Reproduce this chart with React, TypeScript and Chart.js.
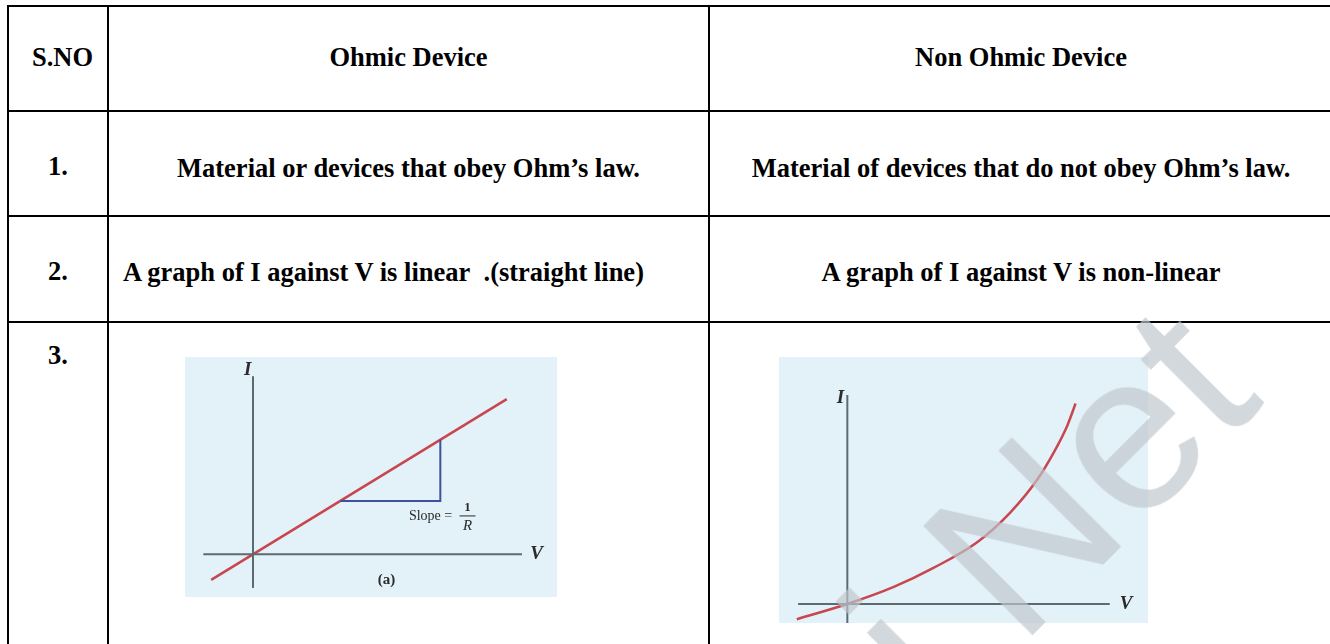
import React, { useEffect, useRef } from "react";
import { Chart, registerables } from "chart.js";

Chart.register(...registerables);

// ---------- table text ----------
const headers = ["S.NO", "Ohmic Device", "Non Ohmic Device"];
const serialNos = ["1.", "2.", "3."];
const ohmicRows = [
  "Material or devices that obey Ohm\u2019s law.",
  "A graph of I against V is linear\u00a0\u00a0.(straight line)",
];
const nonOhmicRows = [
  "Material of devices that do not obey Ohm\u2019s law.",
  "A graph of I against V is non-linear",
];

// ---------- chart (a): ohmic ----------
const ohmicV = [-0.8, 4.85];
const ohmicI = [-0.48, 2.91];
const ohmicVAxis = [-0.95, 5.14];
const ohmicIAxis = [-0.63, 3.34];
const slopeV = [1.67, 3.58, 3.58];
const slopeI = [1.0, 1.0, 2.15];

// ---------- chart (b): non ohmic ----------
const nonOhmicV = [-0.37, 0, 0.34, 0.63, 0.95, 1.19, 1.39, 1.52, 1.61, 1.67];
const nonOhmicI = [-0.16, 0, 0.18, 0.38, 0.65, 0.96, 1.31, 1.62, 1.88, 2.11];
const nonOhmicVAxis = [-0.36, 1.92];
const nonOhmicIAxis = [-0.2, 2.2];

const AXIS = "#5d6a72";
const RED = "#c8464f";
const BLUE = "#3e50a0";
const BOX = "#e3f1f8";

type Label = { x: number; y: number; text: string; font: string; align?: CanvasTextAlign };

function labelPlugin(labels: Label[], extra?: (chart: any) => void) {
  return {
    id: "labels",
    afterDatasetsDraw(chart: any) {
      const ctx = chart.ctx;
      const xs = chart.scales.x;
      const ys = chart.scales.y;
      ctx.save();
      ctx.fillStyle = "#2b2b2b";
      ctx.textBaseline = "middle";
      for (const l of labels) {
        ctx.font = l.font;
        ctx.textAlign = l.align || "center";
        ctx.fillText(l.text, xs.getPixelForValue(l.x), ys.getPixelForValue(l.y));
      }
      if (extra) extra(chart);
      ctx.restore();
    },
  };
}

function pts(xs: number[], ys: number[]) {
  return xs.map((x, i) => ({ x, y: ys[i] }));
}

function MiniChart(props: {
  left: number;
  top: number;
  width: number;
  height: number;
  xr: [number, number];
  yr: [number, number];
  datasets: any[];
  plugin: any;
}) {
  const ref = useRef<HTMLCanvasElement>(null);
  useEffect(() => {
    const chart = new Chart(ref.current as HTMLCanvasElement, {
      type: "scatter",
      data: { datasets: props.datasets },
      options: {
        animation: false,
        responsive: false,
        layout: { padding: 0 },
        plugins: { legend: { display: false }, tooltip: { enabled: false } },
        scales: {
          x: { type: "linear", display: false, min: props.xr[0], max: props.xr[1] },
          y: { type: "linear", display: false, min: props.yr[0], max: props.yr[1] },
        },
      },
      plugins: [props.plugin],
    });
    return () => chart.destroy();
  }, []);
  return (
    <canvas
      ref={ref}
      width={props.width}
      height={props.height}
      style={{
        position: "absolute",
        left: props.left,
        top: props.top,
        width: props.width,
        height: props.height,
        background: BOX,
      }}
    />
  );
}

const lineDs = (data: any[], color: string, width: number, extra: any = {}) => ({
  data,
  showLine: true,
  borderColor: color,
  borderWidth: width,
  pointRadius: 0,
  fill: false,
  ...extra,
});

const serif = "'Liberation Serif', 'Times New Roman', serif";

function Cell(props: { text: string; left: number; top: number; width?: number; align?: any }) {
  return (
    <div
      style={{
        position: "absolute",
        left: props.left,
        top: props.top,
        width: props.width,
        textAlign: props.align || "left",
        fontFamily: serif,
        fontWeight: "bold",
        fontSize: 26.5,
        lineHeight: "26px",
        whiteSpace: "nowrap",
        color: "#000",
      }}
    >
      {props.text}
    </div>
  );
}

function HLine(props: { top: number }) {
  return <div style={{ position: "absolute", left: 7, top: props.top, width: 1330, height: 2, background: "#000" }} />;
}
function VLine(props: { left: number; top: number }) {
  return <div style={{ position: "absolute", left: props.left, top: props.top, width: 2, height: 700, background: "#000" }} />;
}

export default function App() {
  const ohmicDatasets = [
    lineDs(pts([0, 0], ohmicIAxis), AXIS, 2),
    lineDs(pts(ohmicVAxis, [0, 0]), AXIS, 2),
    lineDs(pts(slopeV, slopeI), BLUE, 2),
    lineDs(pts(ohmicV, ohmicI), RED, 2.5),
  ];
  const ohmicPlugin = labelPlugin(
    [
      { x: -0.1, y: 3.45, text: "I", font: `italic bold 19px ${serif}` },
      { x: 5.42, y: 0, text: "V", font: `italic bold 19px ${serif}` },
      { x: 2.55, y: -0.48, text: "(a)", font: `bold 15px ${serif}` },
      { x: 2.98, y: 0.72, text: "Slope =", font: `14px ${serif}`, align: "left" },
    ],
    (chart: any) => {
      const ctx = chart.ctx;
      const xs = chart.scales.x;
      const ys = chart.scales.y;
      const cx = xs.getPixelForValue(4.1);
      const cy = ys.getPixelForValue(0.72);
      ctx.strokeStyle = "#2b2b2b";
      ctx.lineWidth = 1;
      ctx.beginPath();
      ctx.moveTo(cx - 8, cy);
      ctx.lineTo(cx + 8, cy);
      ctx.stroke();
      ctx.textAlign = "center";
      ctx.font = `bold 13px ${serif}`;
      ctx.fillText("1", cx, cy - 8);
      ctx.font = `italic 15px ${serif}`;
      ctx.fillText("R", cx, cy + 10);
    }
  );

  const nonOhmicDatasets = [
    lineDs(pts([0, 0], nonOhmicIAxis), AXIS, 2),
    lineDs(pts(nonOhmicVAxis, [0, 0]), AXIS, 2),
    lineDs(pts(nonOhmicV, nonOhmicI), RED, 2.5, { cubicInterpolationMode: "monotone" }),
  ];
  const nonOhmicPlugin = labelPlugin([
    { x: -0.05, y: 2.17, text: "I", font: `italic bold 19px ${serif}` },
    { x: 2.04, y: 0, text: "V", font: `italic bold 19px ${serif}` },
  ]);

  return (
    <div
      style={{
        position: "absolute",
        left: 0,
        top: 0,
        width: 1330,
        height: 644,
        overflow: "hidden",
        background: "#fff",
      }}
    >
      {/* table grid */}
      <HLine top={4.5} />
      <HLine top={110} />
      <HLine top={215} />
      <HLine top={321} />
      <VLine left={6.5} top={4.5} />
      <VLine left={107} top={4.5} />
      <VLine left={708} top={4.5} />

      {/* header */}
      <Cell text={headers[0]} left={32} top={44} />
      <Cell text={headers[1]} left={109} width={599} top={44} align="center" />
      <Cell text={headers[2]} left={710} width={622} top={44} align="center" />

      {/* serials */}
      <Cell text={serialNos[0]} left={48} top={153} />
      <Cell text={serialNos[1]} left={48} top={258} />
      <Cell text={serialNos[2]} left={48} top={342} />

      {/* rows */}
      <Cell text={ohmicRows[0]} left={109} width={599} top={155} align="center" />
      <Cell text={ohmicRows[1]} left={123} top={259} />
      <Cell text={nonOhmicRows[0]} left={710} width={622} top={155} align="center" />
      <Cell text={nonOhmicRows[1]} left={710} width={622} top={259} align="center" />

      {/* charts */}
      <MiniChart
        left={185}
        top={357}
        width={372}
        height={240}
        xr={[-1.3, 5.81]}
        yr={[-0.8, 3.7]}
        datasets={ohmicDatasets}
        plugin={ohmicPlugin}
      />
      <MiniChart
        left={779}
        top={357}
        width={369}
        height={266}
        xr={[-0.5, 2.2]}
        yr={[-0.2, 2.6]}
        datasets={nonOhmicDatasets}
        plugin={nonOhmicPlugin}
      />

      {/* watermark */}
      <div
        style={{
          position: "absolute",
          left: 806,
          top: 593,
          fontFamily: "'Liberation Sans', Arial, sans-serif",
          fontSize: 224,
          lineHeight: "224px",
          whiteSpace: "nowrap",
          color: "rgba(190,198,204,0.68)",
          transform: "rotate(-45deg)",
          transformOrigin: "0 0",
          pointerEvents: "none",
        }}
      >
        i.Net
      </div>
    </div>
  );
}
